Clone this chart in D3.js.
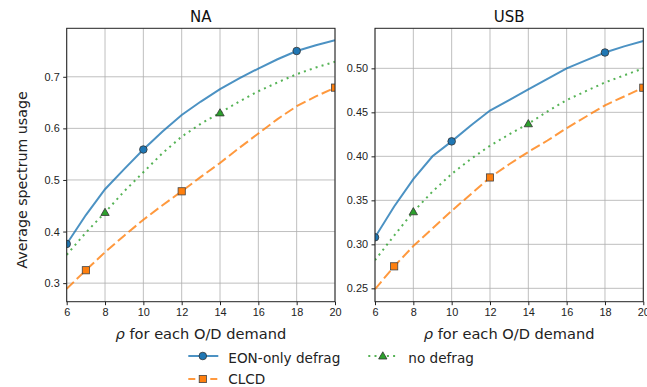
<!DOCTYPE html>
<html>
<head>
<meta charset="utf-8">
<style>
    body { margin: 0; background: #fff; }
    svg { font-family: "DejaVu Sans", sans-serif; }
    .tick text { font-size: 10.9px; fill: #222; }
    .tick line { stroke: #222; }
    .grid line { stroke: #b0b0b0; stroke-width: 1; opacity: 0.8; }
</style>
</head>
<body>
<svg width="647" height="387"></svg>
<script src="https://d3js.org/d3.v7.min.js"></script>
<script>
    // rho values, one point per integer
    let rho = [6, 7, 8, 9, 10, 11, 12, 13, 14, 15, 16, 17, 18, 19, 20]

    // NA panel
    let naEon = [0.376, 0.432, 0.482, 0.521, 0.559, 0.594, 0.626, 0.652, 0.676, 0.697, 0.716, 0.734, 0.750, 0.761, 0.771]
    let naClcd = [0.289, 0.325, 0.360, 0.392, 0.423, 0.451, 0.478, 0.506, 0.533, 0.562, 0.590, 0.618, 0.643, 0.662, 0.679]
    let naNone = [0.355, 0.398, 0.437, 0.478, 0.515, 0.552, 0.584, 0.609, 0.630, 0.652, 0.672, 0.689, 0.705, 0.718, 0.729]

    // USB panel
    let usbEon = [0.308, 0.343, 0.374, 0.400, 0.417, 0.435, 0.452, 0.464, 0.476, 0.488, 0.500, 0.509, 0.518, 0.525, 0.531]
    let usbClcd = [0.249, 0.275, 0.298, 0.318, 0.338, 0.357, 0.376, 0.391, 0.405, 0.418, 0.432, 0.445, 0.458, 0.468, 0.478]
    let usbNone = [0.282, 0.310, 0.337, 0.360, 0.380, 0.397, 0.412, 0.425, 0.437, 0.451, 0.464, 0.474, 0.484, 0.492, 0.500]

    // where markers are drawn
    let eonMarks = [6, 10, 18]
    let clcdMarks = [7, 12, 20]
    let noneMarks = [8, 14]

    let xTicks = [6, 8, 10, 12, 14, 16, 18, 20]
    let naTicks = [0.3, 0.4, 0.5, 0.6, 0.7]
    let usbTicks = [0.25, 0.30, 0.35, 0.40, 0.45, 0.50]

    let seriesNames = ["EON-only defrag", "CLCD", "no defrag"]

    let styles = {
        "EON-only defrag": { color: "#1f77b4", dash: null, legendDash: null, shape: "circle", marks: eonMarks },
        "CLCD": { color: "#ff7f0e", dash: "10,4", legendDash: "7,4", shape: "square", marks: clcdMarks },
        "no defrag": { color: "#2ca02c", dash: "2,4.2", legendDash: "2,4.2", shape: "triangle", marks: noneMarks }
    }

    let svg = d3.select("svg")
    svg.append("rect").attr("width", 647).attr("height", 387).attr("fill", "#fff")

    let plotTop = 28.3, plotBottom = 301.7

    function marker(g, shape, color, cx, cy) {
        if (shape === "circle") {
            g.append("circle").attr("cx", cx).attr("cy", cy).attr("r", 3.8)
                .attr("fill", color).attr("stroke", "#333").attr("stroke-width", 0.8)
        } else if (shape === "square") {
            g.append("rect").attr("x", cx - 3.6).attr("y", cy - 3.6).attr("width", 7.2).attr("height", 7.2)
                .attr("fill", color).attr("stroke", "#444").attr("stroke-width", 0.8)
        } else {
            g.append("path").attr("d", d3.symbol(d3.symbolTriangle, 30)())
                .attr("transform", `translate(${cx},${cy + 0.6})`)
                .attr("fill", color).attr("stroke", "#333").attr("stroke-width", 0.8)
        }
    }

    function panel(id, title, left, right, yDomain, yTicks, fmt, data) {
        let x = d3.scaleLinear().domain([6, 20]).range([left, right])
        let y = d3.scaleLinear().domain(yDomain).range([plotBottom, plotTop])
        let g = svg.append("g")

        // grid
        let grid = g.append("g").attr("class", "grid")
        grid.selectAll(".gx").data(xTicks).join("line")
            .attr("x1", d => x(d)).attr("x2", d => x(d)).attr("y1", plotTop).attr("y2", plotBottom)
        grid.selectAll(".gy").data(yTicks).join("line")
            .attr("x1", left).attr("x2", right).attr("y1", d => y(d)).attr("y2", d => y(d))

        g.append("clipPath").attr("id", "clip-" + id)
            .append("rect").attr("x", left).attr("y", plotTop).attr("width", right - left).attr("height", plotBottom - plotTop)

        let plot = g.append("g").attr("clip-path", `url(#clip-${id})`)
        let line = d3.line().x((d, i) => x(rho[i])).y(d => y(d))

        seriesNames.forEach((name, k) => {
            let s = styles[name]
            plot.append("path").datum(data[k])
                .attr("d", line)
                .attr("fill", "none")
                .attr("stroke", s.color)
                .attr("stroke-opacity", 0.8)
                .attr("stroke-width", 2)
                .attr("stroke-dasharray", s.dash)
        })
        seriesNames.forEach((name, k) => {
            let s = styles[name]
            s.marks.forEach(m => {
                let i = rho.indexOf(m)
                marker(plot, s.shape, s.color, x(m), y(data[k][i]))
            })
        })

        // axes
        g.append("g").attr("transform", `translate(0,${plotBottom})`)
            .call(d3.axisBottom(x).tickValues(xTicks).tickSize(3.5).tickPadding(3.5))
            .call(a => a.select(".domain").remove())
        g.append("g").attr("transform", `translate(${left},0)`)
            .call(d3.axisLeft(y).tickValues(yTicks).tickFormat(d3.format(fmt)).tickSize(3.5).tickPadding(3.5))
            .call(a => a.select(".domain").remove())

        g.append("rect").attr("x", left).attr("y", plotTop).attr("width", right - left).attr("height", plotBottom - plotTop)
            .attr("fill", "none").attr("stroke", "#222").attr("stroke-width", 1)

        g.append("text").attr("x", (left + right) / 2).attr("y", 21.5)
            .attr("text-anchor", "middle").attr("font-size", 15).attr("fill", "#111").text(title)

        let xl = g.append("text").attr("x", (left + right) / 2).attr("y", 339.3)
            .attr("text-anchor", "middle").attr("font-size", 14.6).attr("fill", "#222")
        xl.append("tspan").attr("font-style", "italic").text("ρ")
        xl.append("tspan").text(" for each O/D demand")
    }

    panel("na", "NA", 66.7, 335, [0.264, 0.794], naTicks, ".1f", [naEon, naClcd, naNone])
    panel("usb", "USB", 375, 643.3, [0.2348, 0.5455], usbTicks, ".2f", [usbEon, usbClcd, usbNone])

    svg.append("text")
        .attr("transform", "translate(26.5,180) rotate(-90)")
        .attr("text-anchor", "middle").attr("font-size", 14.2).attr("fill", "#222")
        .text("Average spectrum usage")

    // legend, two columns
    let legendPos = [
        { name: "EON-only defrag", x: 188.3, y: 356, base: 362.7 },
        { name: "CLCD", x: 188.3, y: 379, base: 384.3 },
        { name: "no defrag", x: 368.3, y: 356, base: 362.7 }
    ]
    let lg = svg.append("g")
    legendPos.forEach(p => {
        let s = styles[p.name]
        lg.append("line").attr("x1", p.x).attr("x2", p.x + 30).attr("y1", p.y).attr("y2", p.y)
            .attr("stroke", s.color).attr("stroke-opacity", 0.8).attr("stroke-width", 2)
            .attr("stroke-dasharray", s.legendDash)
        marker(lg, s.shape, s.color, p.x + 14.5, p.y)
        lg.append("text").attr("x", p.x + 40).attr("y", p.base)
            .attr("font-size", 13.6).attr("fill", "#222").text(p.name)
    })
</script>
</body>
</html>
